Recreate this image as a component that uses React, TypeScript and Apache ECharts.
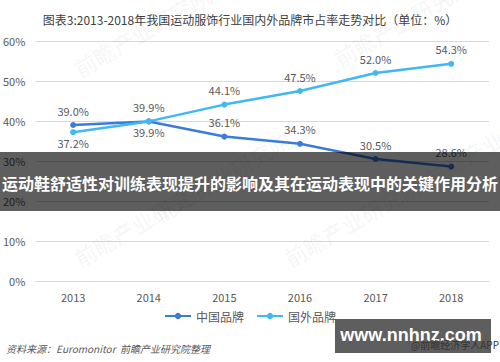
import React, { useEffect, useRef } from "react";
import * as echarts from "echarts";

const years = ["2013", "2014", "2015", "2016", "2017", "2018"];
const chinaBrand = [39.0, 39.9, 36.1, 34.3, 30.5, 28.6];
const foreignBrand = [37.2, 39.9, 44.1, 47.5, 52.0, 54.3];
const chinaLabelPos = ["top", "bottom", "top", "top", "top", "top"];
const foreignLabelPos = ["bottom", "top", "top", "top", "top", "top"];
const seriesNames = ["中国品牌", "国外品牌"];

const FONT = "'Noto Sans CJK SC', 'Noto Sans', sans-serif";

export default function App() {
  const ref = useRef<HTMLDivElement>(null);
  useEffect(() => {
    const chart = echarts.init(ref.current!, null, { renderer: "svg" });
    const mk = (vals: number[], pos: string[]) =>
      vals.map((v, i) => ({
        value: v,
        label: { position: pos[i], distance: pos[i] === "top" ? 6 : 2 },
      }));
    const wm = (x: number, y: number) => ({
      type: "text",
      x,
      y,
      rotation: Math.PI / 6,
      z: 1,
      silent: true,
      style: {
        text: "前瞻产业研究院",
        fill: "rgba(0,0,0,0.035)",
        font: `bold 22px ${FONT}`,
      },
    });
    chart.setOption({
      animation: false,
      textStyle: { fontFamily: FONT },
      title: {
        text: "图表3:2013-2018年我国运动服饰行业国内外品牌市占率走势对比（单位：%）",
        left: "center",
        top: 8,
        textStyle: { fontSize: 12, fontWeight: "normal", color: "#404040", fontFamily: FONT },
      },
      grid: { left: 35, right: 11, top: 41, bottom: 81 },
      xAxis: {
        type: "category",
        data: years,
        axisLine: { lineStyle: { color: "#d9d9d9" } },
        axisTick: { show: false },
        axisLabel: { color: "#595959", fontSize: 11, margin: 10 },
      },
      yAxis: {
        type: "value",
        min: 0,
        max: 60,
        interval: 10,
        axisLabel: { formatter: "{value}%", color: "#595959", fontSize: 11, margin: 10 },
        splitLine: { lineStyle: { color: "#d9d9d9" } },
      },
      legend: {
        bottom: 35,
        left: "center",
        itemWidth: 26,
        itemHeight: 8,
        itemGap: 12,
        textStyle: { color: "#595959", fontSize: 12 },
        data: seriesNames,
      },
      series: [
        {
          name: seriesNames[0],
          type: "line",
          data: mk(chinaBrand, chinaLabelPos),
          color: "#3b7bdb",
          symbol: "circle",
          symbolSize: 6,
          lineStyle: { width: 2.5 },
          label: { show: true, formatter: (p: any) => p.value.toFixed(1) + "%", color: "#595959", fontSize: 11 },
        },
        {
          name: seriesNames[1],
          type: "line",
          data: mk(foreignBrand, foreignLabelPos),
          color: "#3fb8f5",
          symbol: "circle",
          symbolSize: 6,
          lineStyle: { width: 2.5 },
          label: { show: true, formatter: (p: any) => p.value.toFixed(1) + "%", color: "#595959", fontSize: 11 },
        },
      ],
      graphic: [
        wm(70, 60),
        wm(330, 50),
        wm(150, 205),
        wm(420, 170),
        wm(70, 250),
        wm(280, 250),
        {
          type: "rect",
          z: 100,
          shape: { x: 0, y: 152, width: 500, height: 59 },
          style: { fill: "rgba(0,0,0,0.63)" },
        },
        {
          type: "text",
          z: 101,
          x: 250,
          y: 183,
          style: {
            text: "运动鞋舒适性对训练表现提升的影响及其在运动表现中的关键作用分析",
            fill: "#ffffff",
            font: `bold 16px ${FONT}`,
            align: "center",
            verticalAlign: "middle",
          },
        },
        {
          type: "text",
          z: 100,
          x: 6,
          y: 348,
          style: {
            text: "资料来源：Euromonitor  前瞻产业研究院整理",
            fill: "#595959",
            font: `italic 10px ${FONT}`,
            verticalAlign: "middle",
          },
        },
        {
          type: "rect",
          z: 100,
          shape: { x: 335, y: 319, width: 156, height: 34 },
          style: { fill: "rgba(0,0,0,0.63)" },
        },
        {
          type: "text",
          z: 101,
          x: 411,
          y: 335,
          style: {
            text: "www.nnhnz.com",
            fill: "#ffffff",
            font: `bold 18px 'Liberation Sans', Arial, sans-serif`,
            align: "center",
            verticalAlign: "middle",
          },
        },
        {
          type: "text",
          z: 102,
          x: 499,
          y: 344,
          style: {
            text: "@前瞻经济学人APP",
            fill: "#333333",
            font: `10px ${FONT}`,
            align: "right",
            verticalAlign: "middle",
          },
        },
      ],
    });
    return () => chart.dispose();
  }, []);
  return <div ref={ref} style={{ width: 500, height: 362, position: "absolute", left: 0, top: 0, background: "#fff" }} />;
}
